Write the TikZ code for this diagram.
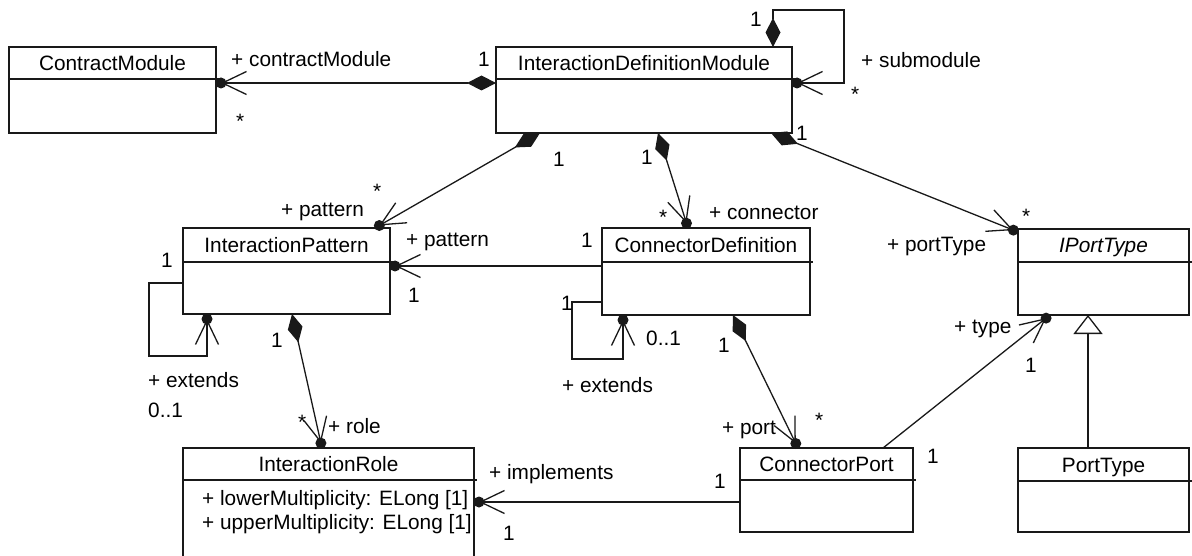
\documentclass[tikz,border=0pt]{standalone}
\usepackage{fontspec}
\setmainfont{Liberation Sans}
\usetikzlibrary{arrows.meta,calc}
\newcommand\umlcls[7]{% name,x,y,w,h,sep,title
  \node[clsbox, minimum width=#4pt, minimum height=#5pt] (#1) at (#2,#3) {};
  \draw[conn] ([yshift=-#6pt]#1.north west) -- ([yshift=-#6pt,xshift=3pt]#1.north east);
  \node[ttl] (#1-t) at ($(#1.north)+(0,{#6/2+7.5})$) {#7};
}
\newcommand\ownd[2]{\fill[black!90] ($(#1)!5pt!(#2)$) circle[radius=5.5pt];}
\begin{document}
\begin{tikzpicture}[x=1pt,y=-1pt,
  lbl/.style={anchor=base west, inner sep=0pt, font=\fontsize{20.8}{25}\selectfont},
  clsbox/.style={draw=black!90, line width=1.3pt, fill=white, inner sep=0pt, outer sep=0pt, anchor=north west},
  ttl/.style={anchor=base, inner sep=0pt, font=\fontsize{20.8}{25}\selectfont},
  conn/.style={draw=black!90, line width=1.3pt},
  nav/.style={-{Straight Barb[length=24pt,width=23pt]}, shorten >=5pt},
  compnav/.style={conn, {Diamond[length=29pt,width=15pt]}-{Straight Barb[length=24pt,width=23pt]}, shorten >=5pt},
  gen/.style={conn, -{Triangle[open,length=19pt,width=29pt,fill=white]}},
]
\useasboundingbox (0,0) rectangle (1192,556);
\clip (0,0) rectangle (1192,556);
\fill[white] (0,0) rectangle (1192,556);

% classes
\umlcls{cm}{9}{47}{207}{86}{32}{ContractModule}
\umlcls{idm}{496}{47}{296}{86}{32}{InteractionDefinitionModule}
\umlcls{ip}{183}{228}{207}{86}{34}{InteractionPattern}
\umlcls{cd}{602}{228}{208}{87}{34}{ConnectorDefinition}
\umlcls{ipt}{1018}{229}{171}{86}{33}{\itshape IPortType}
\umlcls{cp}{740}{448}{173}{84}{32}{ConnectorPort}
\umlcls{pt}{1018}{448}{171}{84}{33}{PortType}
\umlcls{ir}{183}{448}{291}{130}{32}{InteractionRole}
\node[lbl] (a1) at (202,505) {+ lowerMultiplicity: ELong [1]};
\node[lbl] (a2) at (202,529) {+ upperMultiplicity: ELong [1]};

% connection points
\coordinate (c1s) at ($(idm.north west)+(0,36)$);
\coordinate (c1e) at ($(cm.north east)+(0,36)$);
\coordinate (c2s) at ($(idm.south west)+(44,0)$);
\coordinate (c2e) at ($(ip.north west)+(192,0)$);
\coordinate (c3s) at ($(idm.south west)+(162,0)$);
\coordinate (c3e) at ($(cd.north west)+(86,0)$);
\coordinate (c4s) at ($(idm.south west)+(275,0)$);
\coordinate (c4e) at ($(ipt.north west)+(0,3)$);
\coordinate (c5s) at ($(cd.north west)+(0,38)$);
\coordinate (c5e) at ($(ip.north east)+(0,38)$);
\coordinate (c6s) at ($(ip.south west)+(109,0)$);
\coordinate (c6e) at ($(ir.north west)+(139,0)$);
\coordinate (c7s) at ($(cd.south west)+(131,0)$);
\coordinate (c7e) at ($(cp.north west)+(58,0)$);
\coordinate (c8s) at ($(cp.north west)+(143,0)$);
\coordinate (c8e) at ($(ipt.south west)+(32,0)$);
\coordinate (c9s) at ($(cp.north west)+(0,54)$);
\coordinate (c9e) at ($(ir.north east)+(0,54)$);
\coordinate (g1s) at ($(pt.north west)+(70,0)$);
\coordinate (g1e) at ($(ipt.south west)+(70,0)$);
% self loops
\coordinate (s1s) at ($(idm.north west)+(277,0)$);
\coordinate (s1e) at ($(idm.north east)+(0,36)$);
\coordinate (s1c) at ($(s1e)+(52,0)$);
\coordinate (s2s) at ($(ip.north west)+(0,55)$);
\coordinate (s2e) at ($(ip.south west)+(24,0)$);
\coordinate (s2c) at ($(s2e)+(0,42)$);
\coordinate (s3s) at ($(cd.north west)+(0,74)$);
\coordinate (s3e) at ($(cd.south west)+(21,0)$);
\coordinate (s3c) at ($(s3e)+(0,44)$);

% connectors
\draw[compnav] (c1s) -- (c1e); \ownd{c1e}{c1s}
\draw[compnav] (c2s) -- (c2e); \ownd{c2e}{c2s}
\draw[compnav] (c3s) -- (c3e); \ownd{c3e}{c3s}
\draw[compnav] (c4s) -- (c4e); \ownd{c4e}{c4s}
\draw[conn,nav] (c5s) -- (c5e); \ownd{c5e}{c5s}
\draw[compnav] (c6s) -- (c6e); \ownd{c6e}{c6s}
\draw[compnav] (c7s) -- (c7e); \ownd{c7e}{c7s}
\draw[conn,nav] (c8s) -- (c8e); \ownd{c8e}{c8s}
\draw[conn,nav] (c9s) -- (c9e); \ownd{c9e}{c9s}
\draw[gen] (g1s) -- (g1e);
\draw[compnav] (s1s) -- ++(0,-37) -| (s1c) -- (s1e); \ownd{s1e}{s1c}
\draw[conn,nav] (s2s) -- ++(-34,0) |- (s2c) -- (s2e); \ownd{s2e}{s2c}
\draw[conn,nav] (s3s) -- ++(-30,0) |- (s3c) -- (s3e); \ownd{s3e}{s3c}

% labels
\node[lbl] (l1) at (231,67) {+ contractModule};
\node[lbl] (l2) at (478,67) {1};
\node[lbl] (l3) at (236,129) {*};
\node[lbl] (l4) at (750,27) {1};
\node[lbl] (l5) at (861,68) {+ submodule};
\node[lbl] (l6) at (851,102) {*};
\node[lbl] (l7) at (796,141) {1};
\node[lbl] (l8) at (553,167) {1};
\node[lbl] (l9) at (373,199) {*};
\node[lbl] (l10) at (281,217) {+ pattern};
\node[lbl] (l11) at (641,165) {1};
\node[lbl] (l12) at (659,225) {*};
\node[lbl] (l13) at (709,220) {+ connector};
\node[lbl] (l14) at (887,252) {+ portType};
\node[lbl] (l15) at (1022,224) {*};
\node[lbl] (l16) at (406,247) {+ pattern};
\node[lbl] (l17) at (581,248) {1};
\node[lbl] (l18) at (408,302) {1};
\node[lbl] (l19) at (161,268) {1};
\node[lbl] (l20) at (561,310) {1};
\node[lbl] (l21) at (646,345) {0..1};
\node[lbl] (l22) at (562,392) {+ extends};
\node[lbl] (l23) at (718,352) {1};
\node[lbl] (l24) at (722,434) {+ port};
\node[lbl] (l25) at (815,427) {*};
\node[lbl] (l26) at (954,333) {+ type};
\node[lbl] (l27) at (1025,372) {1};
\node[lbl] (l28) at (927,463) {1};
\node[lbl] (l29) at (271,347) {1};
\node[lbl] (l30) at (148,387) {+ extends};
\node[lbl] (l31) at (148,417) {0..1};
\node[lbl] (l32) at (298,429) {*};
\node[lbl] (l33) at (328,433) {+ role};
\node[lbl] (l34) at (489,479) {+ implements};
\node[lbl] (l35) at (714,488) {1};
\node[lbl] (l36) at (503,540) {1};
\end{tikzpicture}
\end{document}
